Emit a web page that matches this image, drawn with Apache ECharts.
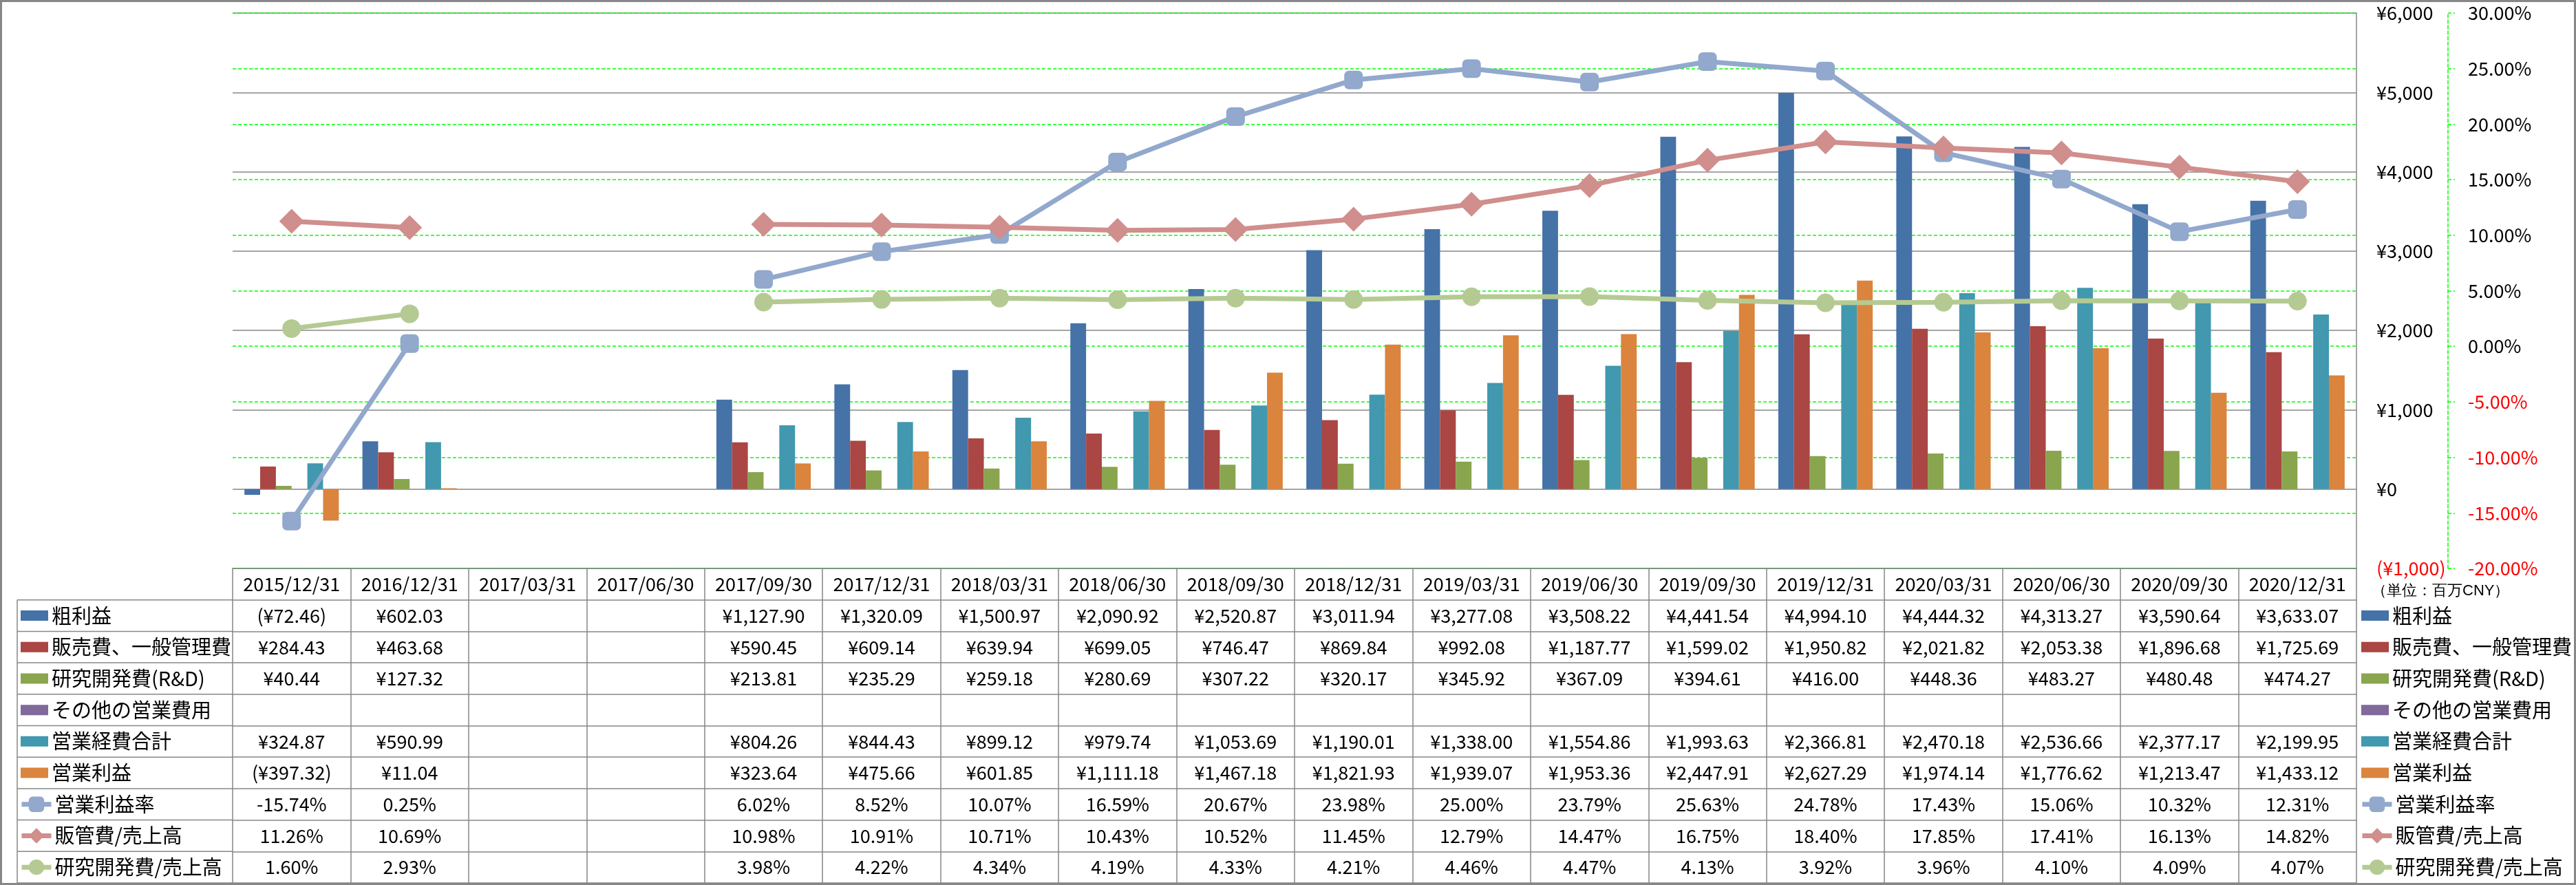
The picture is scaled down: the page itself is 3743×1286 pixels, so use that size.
<!DOCTYPE html>
<html><head><meta charset="utf-8">
<script src="https://cdn.jsdelivr.net/npm/echarts@6/dist/echarts.min.js"></script>
<style>html,body{margin:0;padding:0;background:#fff}#c{width:3743px;height:1286px}</style>
</head><body><div id="c"></div>
<script>
const categories = ['2015/12/31','2016/12/31','2017/03/31','2017/06/30','2017/09/30','2017/12/31','2018/03/31','2018/06/30','2018/09/30','2018/12/31','2019/03/31','2019/06/30','2019/09/30','2019/12/31','2020/03/31','2020/06/30','2020/09/30','2020/12/31'];
const grossProfit = [-72.46, 602.03, null, null, 1127.90, 1320.09, 1500.97, 2090.92, 2520.87, 3011.94, 3277.08, 3508.22, 4441.54, 4994.10, 4444.32, 4313.27, 3590.64, 3633.07];
const sgaExpense = [284.43, 463.68, null, null, 590.45, 609.14, 639.94, 699.05, 746.47, 869.84, 992.08, 1187.77, 1599.02, 1950.82, 2021.82, 2053.38, 1896.68, 1725.69];
const rndExpense = [40.44, 127.32, null, null, 213.81, 235.29, 259.18, 280.69, 307.22, 320.17, 345.92, 367.09, 394.61, 416.00, 448.36, 483.27, 480.48, 474.27];
const otherExpense = [null, null, null, null, null, null, null, null, null, null, null, null, null, null, null, null, null, null];
const totalOpex = [324.87, 590.99, null, null, 804.26, 844.43, 899.12, 979.74, 1053.69, 1190.01, 1338.00, 1554.86, 1993.63, 2366.81, 2470.18, 2536.66, 2377.17, 2199.95];
const opIncome = [-397.32, 11.04, null, null, 323.64, 475.66, 601.85, 1111.18, 1467.18, 1821.93, 1939.07, 1953.36, 2447.91, 2627.29, 1974.14, 1776.62, 1213.47, 1433.12];
const opMargin = [-15.74, 0.25, null, null, 6.02, 8.52, 10.07, 16.59, 20.67, 23.98, 25.00, 23.79, 25.63, 24.78, 17.43, 15.06, 10.32, 12.31];
const sgaRatio = [11.26, 10.69, null, null, 10.98, 10.91, 10.71, 10.43, 10.52, 11.45, 12.79, 14.47, 16.75, 18.40, 17.85, 17.41, 16.13, 14.82];
const rndRatio = [1.60, 2.93, null, null, 3.98, 4.22, 4.34, 4.19, 4.33, 4.21, 4.46, 4.47, 4.13, 3.92, 3.96, 4.10, 4.09, 4.07];
const barNames = ['粗利益','販売費、一般管理費','研究開発費(R&D)','その他の営業費用','営業経費合計','営業利益'];
const lineNames = ['営業利益率','販管費/売上高','研究開発費/売上高'];
const yenTicks = {min: -1000, max: 6000, interval: 1000};
const pctTicks = {min: -20, max: 30, interval: 5};
const unitText = '（単位：百万CNY）';

const FONT = "'Noto Sans CJK JP','Noto Sans',sans-serif";
const GRAY = '#878787';
const GREEN = '#00FF00';
const barColors = ['#4572A7','#AA4643','#89A54E','#80699B','#4198AF','#DB843D'];
const lineColors = ['#92A8CD','#D08E8C','#B5CA92'];
const L = 338, R = 3424, TOP = 19, BOT = 826, W = 3743, H = 1286;
const ROWH = 45.7;

function fmtNum(v){ return Math.abs(v).toLocaleString('en-US',{minimumFractionDigits:2, maximumFractionDigits:2}); }
function fmtYen(v){ if(v==null) return ''; return v<0 ? '(¥'+fmtNum(v)+')' : '¥'+fmtNum(v); }
function fmtPct(v){ if(v==null) return ''; return v.toFixed(2)+'%'; }

const rows = [
  [grossProfit, fmtYen],[sgaExpense, fmtYen],[rndExpense, fmtYen],[otherExpense, fmtYen],
  [totalOpex, fmtYen],[opIncome, fmtYen],[opMargin, fmtPct],[sgaRatio, fmtPct],[rndRatio, fmtPct]
];

const labelBase = {show:true, interval:0, margin:ROWH/2, verticalAlign:'middle', fontSize:27, color:'#000', fontFamily:FONT};
const xAxes = [];
xAxes.push({
  type:'category', gridIndex:0, data:categories, position:'bottom', offset:0,
  axisLine:{show:true, onZero:false, lineStyle:{color:GRAY, width:1.5}},
  axisTick:{show:true, length:ROWH, interval:0, lineStyle:{color:GRAY, width:1.5}},
  axisLabel:Object.assign({}, labelBase),
  splitLine:{show:false}
});
rows.forEach((r,k)=>{
  xAxes.push({
    type:'category', gridIndex:0, data:categories, position:'bottom', offset:ROWH*(k+1),
    axisLine:{show:true, onZero:false, lineStyle:{color:GRAY, width:1.5}},
    axisTick:{show:true, length:ROWH, interval:0, lineStyle:{color:GRAY, width:1.5}},
    axisLabel:Object.assign({}, labelBase, {formatter:(v,i)=>r[1](r[0][i])}),
    splitLine:{show:false}
  });
});
xAxes.push({
  type:'category', gridIndex:0, data:categories, position:'bottom', offset:ROWH*10,
  axisLine:{show:true, onZero:false, lineStyle:{color:GRAY, width:1.5}},
  axisTick:{show:false}, axisLabel:{show:false}, splitLine:{show:false}
});

const barData = [grossProfit, sgaExpense, rndExpense, otherExpense, totalOpex, opIncome];
const series = [];
barData.forEach((d,i)=>{
  series.push({name:barNames[i], type:'bar', xAxisIndex:0, yAxisIndex:0, data:d,
    barGap:'0%', barCategoryGap:'20%', itemStyle:{color:barColors[i]}});
});
const lineData = [opMargin, sgaRatio, rndRatio];
const symbols = ['roundRect','diamond','circle'];
const symSizes = [27, 36, 27];
lineData.forEach((d,i)=>{
  series.push({name:lineNames[i], type:'line', xAxisIndex:0, yAxisIndex:1, data:d,
    symbol:symbols[i], symbolSize:symSizes[i], showAllSymbol:true, connectNulls:false,
    lineStyle:{color:lineColors[i], width:7}, itemStyle:{color:lineColors[i]}, z:5});
});

const textStyle = {fontSize:29, lineHeight:30, color:'#000', fontFamily:FONT};
function barLegend(left){
  return {orient:'vertical', left:left, top: BOT + ROWH + (ROWH-30)/2, itemWidth:40, itemHeight:15, itemGap:ROWH-30,
    data: barNames.map(n=>({name:n, icon:'rect'})), textStyle:textStyle, selectedMode:false, padding:0};
}
function lineLegend(left){
  return {orient:'vertical', left:left-2, top: BOT + ROWH*7 + (ROWH-30)/2, itemWidth:43, itemHeight:28, itemGap:ROWH-30,
    data: lineNames.slice(), textStyle:textStyle, selectedMode:false, padding:0,
    lineStyle:{width:7}};
}

const option = {
  animation:false,
  backgroundColor:'#fff',
  grid:[{left:L, right:W-R, top:TOP, bottom:H-BOT}],
  xAxis: xAxes,
  yAxis:[
    {type:'value', gridIndex:0, position:'right', min:yenTicks.min, max:yenTicks.max, interval:yenTicks.interval,
      axisLine:{show:true, lineStyle:{color:GRAY, width:1.5}}, axisTick:{show:false},
      splitLine:{show:true, lineStyle:{color:GRAY, width:1.5}},
      axisLabel:{margin:29, align:'left', fontSize:27, fontFamily:FONT,
        color:(v)=> (Number(v)<0 ? '#FF0000' : '#000'),
        formatter:(v)=> v<0 ? '(¥'+Math.abs(v).toLocaleString('en-US')+')' : '¥'+v.toLocaleString('en-US')}},
    {type:'value', gridIndex:0, position:'right', offset:3557-R, min:pctTicks.min, max:pctTicks.max, interval:pctTicks.interval,
      axisLine:{show:true, lineStyle:{color:GREEN, width:1.5, type:[5,3]}},
      axisTick:{show:true, length:10, lineStyle:{color:GREEN, width:1.5, type:[5,3]}},
      splitLine:{show:true, lineStyle:{color:GREEN, width:1.5, type:[5,3]}},
      axisLabel:{margin:29, align:'left', fontSize:27, fontFamily:FONT,
        color:(v)=> (Number(v)<0 ? '#FF0000' : '#000'),
        formatter:(v)=> v.toFixed(2)+'%'}}
  ],
  legend:[barLegend(30), lineLegend(30), barLegend(3431), lineLegend(3431)],
  series: series,
  graphic:[
    {type:'rect', shape:{x:1.5, y:1.5, width:W-3, height:H-3}, style:{fill:null, stroke:GRAY, lineWidth:3}, silent:true, z:100},
    {type:'text', left:3446, top:BOT+22, style:{text:unitText, fontSize:22, fill:'#000', font:'22px '+FONT}},
    {type:'line', shape:{x1:25, y1:BOT+ROWH, x2:25, y2:BOT+ROWH*10}, style:{stroke:GRAY, lineWidth:1.5}},
  ].concat(Array.from({length:10},(_,k)=>({type:'line', shape:{x1:25, y1:BOT+ROWH*(k+1), x2:L, y2:BOT+ROWH*(k+1)}, style:{stroke:GRAY, lineWidth:1.5}})))
};
const chart = echarts.init(document.getElementById('c'), null, {renderer:'canvas'});
chart.setOption(option);
</script></body></html>
